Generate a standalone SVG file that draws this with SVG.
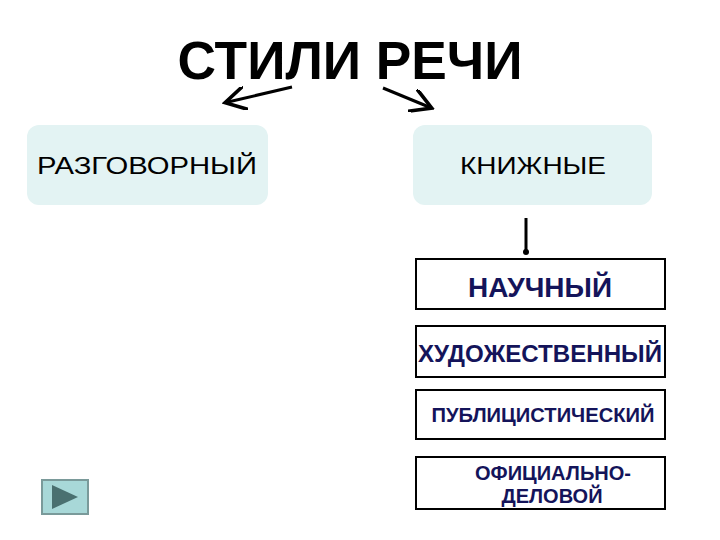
<svg xmlns="http://www.w3.org/2000/svg" width="720" height="540" viewBox="0 0 720 540">
<style>
.t{font-family:"Liberation Sans",Arial,sans-serif;font-weight:bold;fill:#14145a;text-anchor:middle}
.s{font-family:"Liberation Sans",Arial,sans-serif;fill:#000;text-anchor:middle;font-size:24px}
.b{fill:#fff;stroke:#000;stroke-width:2}
.r{fill:#e3f3f3}
.c{stroke:#000;stroke-width:3;fill:none}
</style>
<defs><marker id="a" markerWidth="8" markerHeight="8" refX="6" refY="4" orient="auto" markerUnits="strokeWidth"><path d="M0,0L7,4L0,8" fill="none" stroke="#000" stroke-width="1.2"/></marker></defs>
<rect width="720" height="540" fill="#fff"/>
<g id="title"><text x="350" y="79" style="font-family:'Liberation Sans',Arial,sans-serif;font-weight:bold;font-size:54px;text-anchor:middle" fill="#000" textLength="345" lengthAdjust="spacingAndGlyphs">СТИЛИ РЕЧИ</text></g>
<g id="connectors">
<line class="c" x1="292" y1="87" x2="228" y2="102" marker-end="url(#a)"/>
<line class="c" x1="383" y1="88" x2="429" y2="107" marker-end="url(#a)"/>
<line class="c" x1="526" y1="218" x2="526" y2="250"/>
<circle cx="526" cy="252" r="3" fill="#000"/>
</g>
<g id="razg"><rect class="r" x="27" y="125" width="241" height="80" rx="12"/><text class="s" x="147" y="174" textLength="220" lengthAdjust="spacingAndGlyphs">РАЗГОВОРНЫЙ</text></g>
<g id="knizh"><rect class="r" x="413" y="125" width="239" height="80" rx="12"/><text class="s" x="533" y="174" textLength="146" lengthAdjust="spacingAndGlyphs">КНИЖНЫЕ</text></g>
<g id="n1"><rect class="b" x="416" y="259" width="249" height="50"/><text class="t" x="540" y="297" font-size="28" textLength="144" lengthAdjust="spacingAndGlyphs">НАУЧНЫЙ</text></g>
<g id="n2"><rect class="b" x="416" y="326" width="249" height="51"/><text class="t" x="540" y="362" font-size="24" textLength="244" lengthAdjust="spacingAndGlyphs">ХУДОЖЕСТВЕННЫЙ</text></g>
<g id="n3"><rect class="b" x="416" y="390" width="249" height="49"/><text class="t" x="543" y="422" font-size="20" textLength="223" lengthAdjust="spacingAndGlyphs">ПУБЛИЦИСТИЧЕСКИЙ</text></g>
<g id="n4"><rect class="b" x="416" y="457" width="249" height="52"/><text class="t" x="553" y="480" font-size="20" textLength="156" lengthAdjust="spacingAndGlyphs">ОФИЦИАЛЬНО-</text><text class="t" x="552" y="503" font-size="20">ДЕЛОВОЙ</text></g>
<g id="btn"><rect x="42" y="480" width="46" height="34" fill="#a8d8d8" stroke="#7a9a9a" stroke-width="2"/><path d="M52,485L78,497L52,509Z" fill="#4a7070"/></g>
</svg>
